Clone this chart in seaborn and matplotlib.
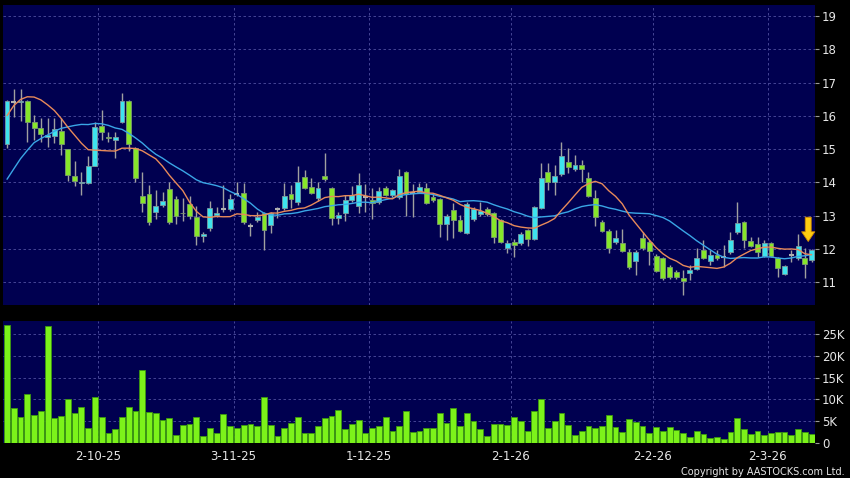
import numpy as np
import pandas as pd
import matplotlib
matplotlib.use("Agg")
import matplotlib.pyplot as plt
import seaborn as sns


# DATA

opens = [15.14, 16.42, 16.40, 16.45, 15.80, 15.62, 15.37, 15.39, 15.54, 14.99,
         14.20, 13.97, 13.97, 14.50, 15.70, 15.37, 15.26, 15.80, 16.45, 15.02,
         13.59, 13.64, 13.11, 13.31, 13.79, 13.49, 13.09, 13.34, 12.96, 12.39,
         12.63, 13.02, 13.20, 13.21, 13.65, 13.69, 12.69, 12.88, 13.08, 12.71,
         13.19, 13.23, 13.66, 13.40, 14.17, 13.87, 13.52, 14.20, 13.82, 12.93,
         13.07, 13.47, 13.29, 13.55, 13.47, 13.40, 13.84, 13.62, 13.55, 14.32,
         13.68, 13.72, 13.82, 13.55, 13.49, 12.76, 13.17, 12.86, 12.48, 12.89,
         13.04, 13.20, 13.07, 12.86, 12.01, 12.21, 12.18, 12.56, 12.28, 13.23,
         14.30, 14.00, 14.24, 14.60, 14.39, 14.52, 14.12, 13.52, 12.81, 12.54,
         12.19, 12.16, 11.91, 11.63, 12.31, 12.21, 11.79, 11.71, 11.46, 11.31,
         11.13, 11.26, 11.39, 11.96, 11.63, 11.81, 11.75, 11.91, 12.51, 12.81,
         12.24, 12.13, 11.79, 12.16, 11.71, 11.23, 11.80, 11.71, 11.71, 11.66]

highs = [16.48, 16.80, 16.80, 16.47, 16.02, 15.93, 15.93, 15.93, 15.92, 15.00,
         14.65, 14.30, 14.80, 15.82, 16.17, 15.50, 15.52, 16.68, 16.47, 15.05,
         14.32, 13.92, 13.77, 13.70, 14.00, 13.60, 13.52, 13.60, 13.30, 12.50,
         13.45, 13.25, 13.92, 13.65, 14.00, 13.97, 12.78, 13.11, 13.10, 13.10,
         13.26, 13.97, 13.92, 14.50, 14.37, 14.12, 14.00, 14.87, 13.85, 13.11,
         13.62, 13.90, 14.27, 13.95, 13.82, 13.85, 13.90, 13.80, 14.40, 14.35,
         13.94, 13.99, 13.99, 13.65, 13.52, 13.05, 13.37, 13.02, 13.40, 13.25,
         13.42, 13.25, 13.10, 12.90, 12.26, 12.30, 12.50, 12.60, 13.30, 14.57,
         14.57, 14.52, 15.20, 15.02, 14.82, 14.67, 14.30, 13.77, 12.86, 12.60,
         12.56, 12.61, 12.00, 11.95, 12.51, 12.25, 11.85, 11.75, 11.50, 11.36,
         11.36, 11.51, 12.01, 12.26, 11.96, 11.96, 12.11, 12.51, 13.40, 12.85,
         12.36, 12.36, 12.26, 12.20, 11.75, 11.50, 11.95, 12.46, 12.01, 12.00]

lows = [15.03, 15.95, 15.85, 15.22, 15.27, 15.22, 15.07, 15.19, 14.82, 14.05,
        13.90, 13.62, 13.95, 14.48, 15.27, 15.22, 14.74, 15.78, 14.95, 14.00,
        13.11, 12.71, 12.90, 13.25, 12.75, 12.75, 12.85, 12.90, 12.10, 12.20,
        12.55, 12.95, 13.10, 13.15, 13.58, 12.75, 12.40, 12.81, 11.96, 12.47,
        12.93, 13.17, 13.22, 13.33, 13.80, 13.65, 13.45, 14.05, 12.71, 12.76,
        12.85, 13.40, 13.07, 13.10, 12.90, 13.35, 13.58, 13.55, 13.50, 13.00,
        12.96, 13.70, 13.35, 13.40, 12.36, 12.26, 12.32, 12.50, 12.45, 12.85,
        13.00, 13.00, 12.16, 12.16, 11.86, 11.76, 12.10, 12.08, 12.25, 13.20,
        13.77, 13.62, 14.20, 14.27, 14.35, 14.02, 13.55, 12.69, 12.50, 11.86,
        12.15, 11.90, 11.40, 11.21, 11.95, 11.51, 11.30, 11.05, 11.10, 11.10,
        10.61, 11.06, 11.35, 11.70, 11.51, 11.65, 11.46, 11.85, 12.45, 12.01,
        12.05, 11.76, 11.76, 11.75, 11.16, 11.20, 11.60, 11.65, 11.11, 11.60]

closes = [16.44, 16.42, 16.45, 15.80, 15.62, 15.44, 15.42, 15.59, 15.14, 14.22,
          14.05, 14.02, 14.50, 15.67, 15.50, 15.33, 15.37, 16.45, 15.14, 14.12,
          13.37, 12.80, 13.30, 13.45, 12.81, 12.98, 13.07, 12.98, 12.39, 12.45,
          13.23, 13.07, 13.20, 13.49, 13.65, 12.82, 12.69, 12.97, 12.58, 13.08,
          13.19, 13.60, 13.49, 14.02, 13.84, 13.69, 13.82, 14.09, 12.93, 13.02,
          13.47, 13.62, 13.92, 13.55, 13.37, 13.74, 13.62, 13.77, 14.20, 13.64,
          13.68, 13.85, 13.37, 13.47, 12.74, 13.00, 12.87, 12.53, 13.34, 13.19,
          13.14, 13.05, 12.36, 12.21, 12.16, 12.11, 12.44, 12.28, 13.26, 14.12,
          14.00, 14.20, 14.80, 14.45, 14.52, 14.39, 13.59, 12.96, 12.53, 12.01,
          12.33, 11.93, 11.44, 11.91, 12.01, 11.93, 11.33, 11.11, 11.16, 11.16,
          11.03, 11.36, 11.71, 11.73, 11.81, 11.71, 11.75, 12.26, 12.79, 12.26,
          12.09, 11.91, 12.16, 11.79, 11.41, 11.48, 11.80, 12.08, 11.53, 11.96]

# volume in thousands
volume_k = [26.9, 8.1, 6.1, 11.2, 6.4, 7.4, 26.7, 5.8, 6.2, 10.2,
            7.0, 8.2, 3.4, 10.6, 6.0, 2.3, 3.3, 5.9, 8.2, 7.4,
            16.7, 7.1, 6.8, 5.4, 5.7, 2.0, 4.2, 4.4, 6.1, 1.7,
            3.6, 2.3, 6.7, 3.9, 3.4, 4.2, 4.4, 3.9, 10.5, 4.2,
            1.7, 3.6, 4.7, 6.0, 2.4, 2.4, 3.9, 5.7, 6.3, 7.7,
            3.3, 4.4, 5.2, 2.3, 3.6, 3.9, 6.1, 2.9, 3.9, 7.3,
            2.6, 2.7, 3.4, 3.4, 7.0, 4.7, 8.1, 4.0, 6.8, 5.1,
            3.3, 1.7, 4.5, 4.4, 4.2, 5.9, 5.0, 2.8, 7.4, 10.2,
            3.4, 5.0, 6.8, 4.2, 1.9, 2.7, 3.9, 3.4, 3.9, 6.4,
            3.8, 2.5, 5.6, 4.8, 3.9, 2.4, 3.7, 2.9, 3.8, 3.0,
            2.3, 1.4, 2.7, 2.1, 1.3, 1.4, 1.0, 2.6, 5.7, 3.2,
            2.1, 2.9, 1.8, 2.3, 2.6, 2.6, 2.0, 3.2, 2.5, 2.1]

# closes before the window, estimated from where the moving averages start
prior_close = [10.2, 10.3, 10.8, 11.0, 13.0, 13.3, 13.3, 13.4, 13.3, 13.2,
               13.4, 14.6, 15.0, 15.7, 16.3, 16.9, 17.3, 17.5, 16.9]

date_labels = ["2-10-25", "3-11-25", "1-12-25", "2-1-26", "2-2-26", "2-3-26"]
date_idx = [13, 33, 53, 74, 95, 112]

price_ticks = [11, 12, 13, 14, 15, 16, 17, 18, 19]
vol_ticks = [0, 5, 10, 15, 20, 25]
vol_labels = ["0", "5K", "10K", "15K", "20K", "25K"]


# STYLE

NAVY = "#000050"
GRID = "#5050a0"
TXT = "#e6e6e6"
UP = "#3ee4ee"
DOWN = "#86e62a"
VOL = "#7cf21a"

sns.set_style("dark")
plt.rcParams["font.family"] = ["DejaVu Sans"]

df = pd.DataFrame({"open": opens, "high": highs, "low": lows,
                   "close": closes, "vol": volume_k})
df["idx"] = np.arange(len(df))

full = pd.Series(prior_close + closes)
df["ma10"] = full.rolling(10).mean().iloc[len(prior_close):].values
df["ma20"] = full.rolling(20).mean().iloc[len(prior_close):].values

fig = plt.figure(figsize=(8.5, 4.78), dpi=100, facecolor="black")
ax = fig.add_axes([0.0035, 0.3619, 0.9553, 0.6276])
axv = fig.add_axes([0.0035, 0.0726, 0.9553, 0.2559])

xpos = [d + 0.5 for d in date_idx]

for a in (ax, axv):
    a.set_facecolor(NAVY)
    for s in a.spines.values():
        s.set_visible(False)
    a.set_xlim(-0.6, 119.5)
    a.set_xticks(xpos)
    a.grid(True, color=GRID, linestyle=(0, (3, 3)), linewidth=0.6)
    a.yaxis.tick_right()
    a.tick_params(axis="y", colors="#9a9a9a", labelcolor=TXT, length=3,
                  width=0.8, pad=2, labelsize=8.5)
    a.set_axisbelow(True)


# PRICE PANEL

up = df[df["close"] > df["open"]]
down = df[df["close"] < df["open"]]
doji = df[df["close"] == df["open"]]

ax.vlines(df["idx"], df["low"], df["high"], color="#a0a0a0", linewidth=1, zorder=2)
ax.bar(up["idx"], up["close"] - up["open"], bottom=up["open"], width=0.72,
       color=UP, edgecolor="#7a9aa0", linewidth=0.6, zorder=3)
ax.bar(down["idx"], down["open"] - down["close"], bottom=down["close"], width=0.72,
       color=DOWN, edgecolor="#7a9a70", linewidth=0.6, zorder=3)
ax.hlines(doji["close"], doji["idx"] - 0.36, doji["idx"] + 0.36,
          color="#b0b0b0", linewidth=1.5, zorder=3)

sns.lineplot(data=df, x="idx", y="ma20", ax=ax, color="#3aa6e6", linewidth=1, zorder=4)
sns.lineplot(data=df, x="idx", y="ma10", ax=ax, color="#e88a5a", linewidth=1, zorder=4)

ax.annotate("", xy=(118.5, 12.22), xytext=(118.5, 12.95),
            arrowprops=dict(width=4.3, headwidth=9.5, headlength=7, shrink=0,
                            facecolor="#ffcc10", edgecolor="#d08a00", linewidth=0.6),
            zorder=6)

ax.set_ylim(10.31, 19.33)
ax.set_yticks(price_ticks)
ax.set_yticklabels([str(t) for t in price_ticks])
ax.tick_params(axis="x", length=0, labelbottom=False)
ax.set_xlabel("")
ax.set_ylabel("")


# VOLUME PANEL

axv.bar(df["idx"], df["vol"], width=0.86, color=VOL, edgecolor="#3c9a10",
        linewidth=0.6, zorder=3)
axv.set_ylim(0, 27.9)
axv.set_yticks(vol_ticks)
axv.set_yticklabels(vol_labels)
axv.set_xticklabels(date_labels)
axv.tick_params(axis="x", colors="#9a9a9a", labelcolor=TXT, length=3,
                width=0.8, pad=2, labelsize=8.5)

fig.text(0.994, 0.002, "Copyright by AASTOCKS.com Ltd.", ha="right", va="bottom",
         color=TXT, fontsize=7)

fig.savefig("out.png", dpi=100, facecolor="black")
